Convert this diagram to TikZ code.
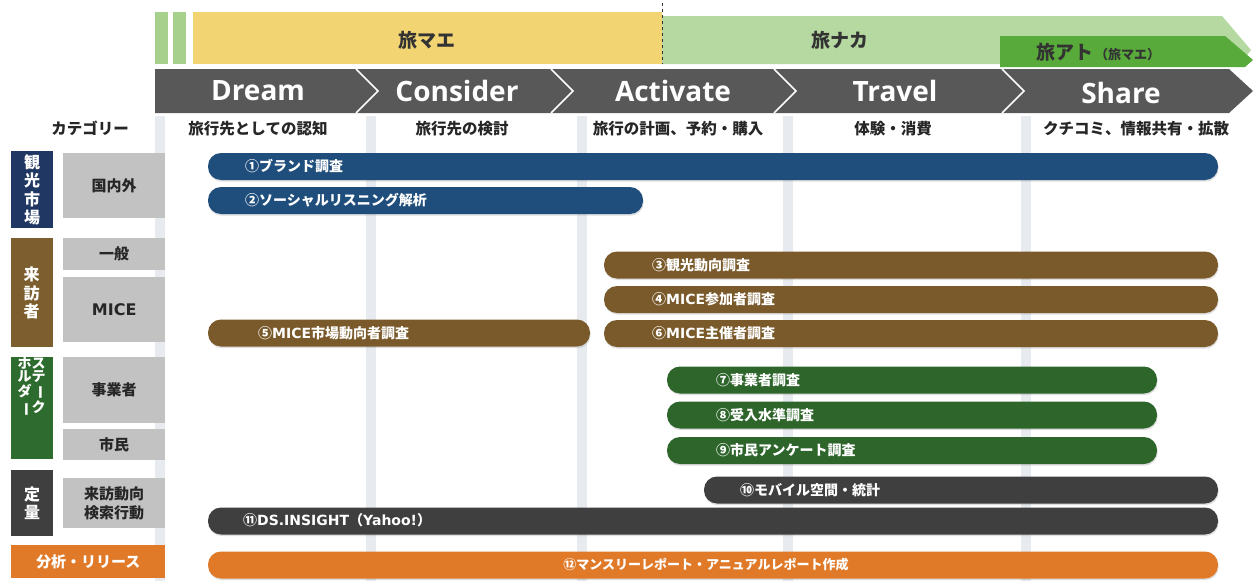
\documentclass[tikz,border=0pt]{standalone}
\usepackage{fontspec}
\newfontfamily\jp{Noto Sans CJK JP}
\newfontfamily\en{Open Sans}
\newfontfamily\dv{DejaVu Sans}
\usetikzlibrary{shadows}
\definecolor{cnavy}{HTML}{1F4E7C}
\definecolor{lnavy}{HTML}{1F3762}
\definecolor{cbrown}{HTML}{7A5A2B}
\definecolor{lbrown}{HTML}{7D5F2F}
\definecolor{cgreen}{HTML}{2D652B}
\definecolor{lgreen}{HTML}{2E6B2E}
\definecolor{cdgray}{HTML}{3F3F3F}
\definecolor{corange}{HTML}{E07A28}
\definecolor{cgbox}{HTML}{C2C2C2}
\definecolor{cyellow}{HTML}{F2D572}
\definecolor{clgreen}{HTML}{B5D9A0}
\definecolor{cdgreen}{HTML}{58AB3B}
\definecolor{cstripe}{HTML}{A8D08D}
\definecolor{carrow}{HTML}{585858}
\definecolor{ccol}{HTML}{E7EBF0}
\tikzset{
  capsule/.style={rounded corners=13pt, minimum height=27pt, inner sep=0pt, outer sep=0pt, anchor=west,
    drop shadow={opacity=0.25, shadow xshift=0.6pt, shadow yshift=-1.6pt}},
  bartext/.style={text=white, font=\jp\bfseries\fontsize{14}{16}\selectfont, anchor=west, inner sep=0pt},
  gbox/.style={fill=cgbox, minimum width=102pt, inner sep=0pt, anchor=north west,
    font=\jp\bfseries\fontsize{15}{17}\selectfont, text=black!85},
  cbox/.style={minimum width=42pt, inner sep=0pt, anchor=north west},
  vtext/.style={text=white, font=\jp\bfseries\fontsize{16}{18.5}\selectfont, align=center, inner sep=0pt},
  head/.style={text=white, font=\en\bfseries\fontsize{28}{30}\selectfont, inner sep=0pt},
  sub/.style={font=\jp\bfseries\fontsize{15.5}{17}\selectfont, text=black!85, inner sep=0pt},
  phase/.style={font=\jp\bfseries\fontsize{19}{21}\selectfont, text=black!80, inner sep=0pt},
  sep/.style={draw=white, line width=1.6pt, line join=miter}
}
\newcommand{\vbar}{\makebox[1em][c]{\rotatebox[origin=c]{-90}{ー}}}
\newcommand{\lat}[1]{{\dv\bfseries #1}}
\begin{document}
\begin{tikzpicture}[x=1pt,y=-1pt]
\useasboundingbox (0,0) rectangle (1254,581);
\fill[white] (0,0) rectangle (1254,581);
% column stripes
\foreach \xs in {155,366,577,783,1021}
  \fill[ccol] (\xs,116) rectangle ++(10,465);
% top phase banner
\fill[cstripe] (155,12) rectangle (168,64);
\fill[cstripe] (173,12) rectangle (186,64);
\fill[cyellow] (193,12) rectangle (662,64);
\fill[clgreen] (662,16) -- (1222,16) -- (1251,50) -- (1240,64) -- (662,64) -- cycle;
\fill[cdgreen] (1000,36) -- (1225,36) -- (1253,60) -- (1245,67) -- (1000,67) -- cycle;
\draw[black!80, dashed, line width=0.8pt] (662,3) -- (662,64);
\node[phase] (p1) at (427,40) {旅マエ};
\node[phase] (p2) at (840,40) {旅ナカ};
\node[phase, anchor=west] (p3) at (1036,52) {旅アト\hspace{2pt}{\fontsize{13}{14}\selectfont （旅マエ）}};
% chevron bar
\fill[carrow] (155,69) -- (1229,69) -- (1253,91) -- (1229,113) -- (155,113) -- cycle;
\foreach \xc in {356,551,774,1002}
  \draw[sep] (\xc,69) -- (\xc+22,91) -- (\xc,113);
\node[head] (h1) at (258,91) {Dream};
\node[head] (h2) at (457,91) {Consider};
\node[head] (h3) at (673,91) {Activate};
\node[head] (h4) at (895,91) {Travel};
\node[head] (h5) at (1121,93) {Share};
% sub row
\node[sub] (s0) at (90,128) {カテゴリー};
\node[sub] (s1) at (258,129) {旅行先としての認知};
\node[sub] (s2) at (462,129) {旅行先の検討};
\node[sub] (s3) at (678,129) {旅行の計画、予約・購入};
\node[sub] (s4) at (893,129) {体験・消費};
\node[sub] (s5) at (1136,129) {クチコミ、情報共有・拡散};
% left category boxes
\node[cbox, fill=lnavy, minimum height=77pt] (k1) at (11,151) {};
\node[vtext] at (k1.center) {観\\光\\市\\場};
\node[cbox, fill=lbrown, minimum height=109pt] (k2) at (11,238) {};
\node[vtext] at (31.5,293) {来\\訪\\者};
\node[cbox, fill=lgreen, minimum height=102pt] (k3) at (11,357) {};
\node[vtext, font=\jp\bfseries\fontsize{14}{13}\selectfont] at (31.5,387) {ホス\\ルテ\\ダ\vbar\\\vbar ク};
\node[cbox, fill=cdgray, minimum height=66pt] (k4) at (11,470) {};
\node[vtext] at (k4.center) {定\\量};
\node[gbox, fill=corange, minimum width=154pt, minimum height=33pt, text=white] (k5) at (11,545) {分析・リリース};
\node[gbox, minimum height=65pt] (g1) at (63,153) {国内外};
\node[gbox, minimum height=32pt] (g2) at (63,238) {一般};
\node[gbox, minimum height=65pt, font=\dv\bfseries\fontsize{16}{18}\selectfont] (g3) at (63,277) {MICE};
\node[gbox, minimum height=66pt] (g4) at (63,357) {事業者};
\node[gbox, minimum height=31pt] (g5) at (63,429) {市民};
\node[gbox, minimum height=50pt, align=center, font=\jp\bfseries\fontsize{15}{19}\selectfont] (g6) at (63,478) {来訪動向\\検索行動};
% bars
\node[capsule, fill=cnavy, minimum width=1010pt] (b1) at (208,166.5) {};
\node[bartext] at (245,166) {①ブランド調査};
\node[capsule, fill=cnavy, minimum width=435pt] (b2) at (208,200.5) {};
\node[bartext] at (245,200) {②ソーシャルリスニング解析};
\node[capsule, fill=cbrown, minimum width=614pt] (b3) at (604,265) {};
\node[bartext] at (652,265) {③観光動向調査};
\node[capsule, fill=cbrown, minimum width=614pt] (b4) at (604,299.5) {};
\node[bartext] at (652,299.5) {④\lat{MICE}参加者調査};
\node[capsule, fill=cbrown, minimum width=382pt] (b5) at (208,333) {};
\node[bartext] at (258,333) {⑤\lat{MICE}市場動向者調査};
\node[capsule, fill=cbrown, minimum width=614pt] (b6) at (604,333.5) {};
\node[bartext] at (652,333.5) {⑥\lat{MICE}主催者調査};
\node[capsule, fill=cgreen, minimum width=490pt] (b7) at (667,380) {};
\node[bartext] at (716,380) {⑦事業者調査};
\node[capsule, fill=cgreen, minimum width=490pt] (b8) at (667,415) {};
\node[bartext] at (716,415) {⑧受入水準調査};
\node[capsule, fill=cgreen, minimum width=490pt] (b9) at (667,450.5) {};
\node[bartext] at (716,450.5) {⑨市民アンケート調査};
\node[capsule, fill=cdgray, minimum width=514pt] (b10) at (704,490) {};
\node[bartext] at (740,490) {⑩モバイル空間・統計};
\node[capsule, fill=cdgray, minimum width=1010pt] (b11) at (208,521) {};
\node[bartext] at (243,520) {⑪\lat{DS.INSIGHT}（\lat{Yahoo!}）};
\node[capsule, fill=corange, minimum width=1010pt] (b12) at (208,565) {};
\node[bartext, font=\jp\bfseries\fontsize{13}{15}\selectfont, anchor=center] at (706,565) {⑫マンスリーレポート・アニュアルレポート作成};
\end{tikzpicture}
\end{document}
